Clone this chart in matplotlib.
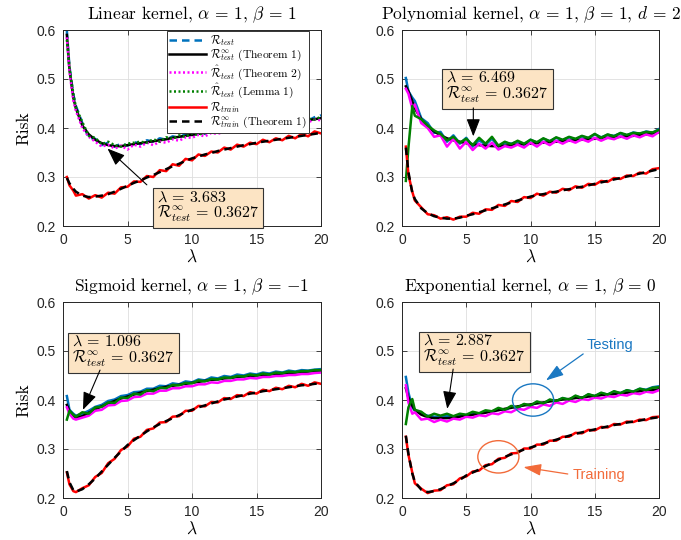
import matplotlib
matplotlib.use('Agg')
import matplotlib.pyplot as plt
from matplotlib.patches import Ellipse

plt.rcParams['mathtext.fontset'] = 'cm'
plt.rcParams['font.family'] = ['Liberation Sans', 'DejaVu Sans']

# ---------------- data ----------------
lam = [0.3, 0.5, 0.8, 1.0, 1.5, 2.0, 2.5, 3.0, 3.5, 4.0, 4.5, 5.0, 5.5, 6.0, 6.5, 7.0,
       7.5, 8.0, 8.5, 9.0, 9.5, 10.0, 10.5, 11.0, 11.5, 12.0, 12.5, 13.0, 13.5, 14.0,
       14.5, 15.0, 15.5, 16.0, 16.5, 17.0, 17.5, 18.0, 18.5, 19.0, 19.5, 20.0]

# Linear kernel
lin_test = [0.598, 0.525, 0.468, 0.445, 0.410, 0.380, 0.378, 0.365, 0.370, 0.362, 0.368, 0.364, 0.372, 0.367,
            0.375, 0.372, 0.379, 0.376, 0.383, 0.380, 0.388, 0.385, 0.391, 0.388, 0.396, 0.393, 0.399, 0.396,
            0.403, 0.400, 0.406, 0.403, 0.410, 0.406, 0.412, 0.409, 0.416, 0.412, 0.419, 0.415, 0.422, 0.426]
lin_test_th = [0.590, 0.520, 0.462, 0.440, 0.405, 0.387, 0.376, 0.369, 0.365, 0.363, 0.363, 0.365, 0.367, 0.369,
               0.371, 0.373, 0.375, 0.377, 0.380, 0.382, 0.384, 0.386, 0.388, 0.390, 0.392, 0.394, 0.396, 0.398,
               0.399, 0.401, 0.403, 0.404, 0.406, 0.407, 0.409, 0.410, 0.412, 0.413, 0.415, 0.416, 0.418, 0.420]
lin_test_t2 = [0.585, 0.515, 0.456, 0.435, 0.400, 0.382, 0.372, 0.362, 0.366, 0.358, 0.364, 0.356, 0.366, 0.362,
               0.370, 0.365, 0.372, 0.370, 0.377, 0.374, 0.381, 0.380, 0.386, 0.383, 0.390, 0.388, 0.393, 0.392,
               0.397, 0.395, 0.400, 0.399, 0.404, 0.402, 0.407, 0.405, 0.410, 0.409, 0.413, 0.412, 0.417, 0.416]
lin_test_l1 = [0.580, 0.522, 0.470, 0.442, 0.412, 0.384, 0.380, 0.367, 0.372, 0.365, 0.362, 0.368, 0.370, 0.372,
               0.370, 0.377, 0.372, 0.381, 0.378, 0.385, 0.382, 0.389, 0.386, 0.392, 0.390, 0.397, 0.394, 0.400,
               0.397, 0.404, 0.401, 0.407, 0.404, 0.410, 0.406, 0.413, 0.410, 0.416, 0.413, 0.419, 0.417, 0.423]
lin_train = [0.300, 0.283, 0.272, 0.262, 0.265, 0.256, 0.263, 0.258, 0.268, 0.266, 0.279, 0.280, 0.291, 0.290,
             0.302, 0.300, 0.314, 0.312, 0.326, 0.323, 0.337, 0.334, 0.346, 0.343, 0.352, 0.350, 0.360, 0.356,
             0.366, 0.362, 0.370, 0.367, 0.376, 0.371, 0.379, 0.375, 0.384, 0.379, 0.388, 0.383, 0.393, 0.389]
lin_train_th = [0.298, 0.287, 0.276, 0.270, 0.262, 0.259, 0.260, 0.262, 0.265, 0.270, 0.276, 0.282, 0.288, 0.293,
                0.299, 0.304, 0.310, 0.316, 0.322, 0.327, 0.333, 0.338, 0.342, 0.346, 0.349, 0.353, 0.356, 0.359,
                0.362, 0.365, 0.367, 0.370, 0.372, 0.374, 0.376, 0.378, 0.380, 0.382, 0.384, 0.386, 0.388, 0.390]

# Polynomial kernel
pol_test = [0.502, 0.475, 0.462, 0.455, 0.420, 0.410, 0.390, 0.392, 0.372, 0.385, 0.368, 0.380, 0.362, 0.375,
            0.366, 0.378, 0.362, 0.370, 0.368, 0.372, 0.366, 0.376, 0.370, 0.378, 0.373, 0.380, 0.375, 0.381,
            0.377, 0.383, 0.379, 0.387, 0.381, 0.386, 0.384, 0.389, 0.385, 0.391, 0.388, 0.393, 0.390, 0.398]
pol_test_th = [0.485, 0.475, 0.455, 0.440, 0.418, 0.403, 0.393, 0.385, 0.379, 0.375, 0.372, 0.369, 0.367, 0.365,
               0.364, 0.363, 0.363, 0.364, 0.365, 0.366, 0.367, 0.368, 0.369, 0.370, 0.371, 0.372, 0.373, 0.374,
               0.375, 0.376, 0.377, 0.378, 0.379, 0.380, 0.381, 0.382, 0.383, 0.384, 0.386, 0.387, 0.389, 0.391]
pol_test_t2 = [0.480, 0.470, 0.440, 0.448, 0.410, 0.400, 0.382, 0.385, 0.362, 0.378, 0.358, 0.372, 0.355, 0.368,
               0.358, 0.370, 0.356, 0.363, 0.360, 0.366, 0.360, 0.370, 0.362, 0.372, 0.365, 0.374, 0.368, 0.375,
               0.370, 0.377, 0.372, 0.380, 0.374, 0.380, 0.377, 0.383, 0.378, 0.385, 0.381, 0.387, 0.383, 0.392]
pol_test_l1 = [0.292, 0.360, 0.445, 0.425, 0.418, 0.405, 0.395, 0.388, 0.375, 0.382, 0.370, 0.378, 0.365, 0.380,
               0.368, 0.382, 0.364, 0.372, 0.367, 0.374, 0.368, 0.376, 0.371, 0.379, 0.373, 0.381, 0.376, 0.382,
               0.378, 0.384, 0.380, 0.388, 0.380, 0.387, 0.383, 0.390, 0.386, 0.390, 0.389, 0.392, 0.391, 0.396]
pol_train = [0.362, 0.305, 0.270, 0.252, 0.238, 0.224, 0.222, 0.215, 0.218, 0.213, 0.219, 0.219, 0.227, 0.225,
             0.234, 0.233, 0.243, 0.241, 0.251, 0.249, 0.259, 0.257, 0.266, 0.262, 0.270, 0.268, 0.276, 0.273,
             0.281, 0.278, 0.286, 0.284, 0.292, 0.290, 0.298, 0.296, 0.303, 0.302, 0.309, 0.307, 0.316, 0.318]
pol_train_th = [0.360, 0.310, 0.268, 0.255, 0.236, 0.226, 0.220, 0.217, 0.215, 0.215, 0.217, 0.221, 0.224, 0.228,
                0.232, 0.236, 0.240, 0.244, 0.248, 0.252, 0.256, 0.260, 0.263, 0.265, 0.268, 0.270, 0.273, 0.275,
                0.278, 0.280, 0.283, 0.286, 0.289, 0.292, 0.295, 0.298, 0.301, 0.304, 0.307, 0.310, 0.313, 0.316]

# Sigmoid kernel
sig_test = [0.408, 0.380, 0.372, 0.368, 0.372, 0.378, 0.386, 0.390, 0.398, 0.401, 0.408, 0.410, 0.416, 0.417,
            0.423, 0.423, 0.429, 0.428, 0.434, 0.432, 0.438, 0.436, 0.442, 0.440, 0.446, 0.444, 0.449, 0.447,
            0.452, 0.450, 0.454, 0.452, 0.456, 0.454, 0.458, 0.456, 0.460, 0.458, 0.461, 0.460, 0.462, 0.463]
sig_test_th = [0.390, 0.378, 0.368, 0.364, 0.367, 0.374, 0.381, 0.387, 0.393, 0.398, 0.403, 0.407, 0.411, 0.415,
               0.418, 0.421, 0.424, 0.427, 0.429, 0.431, 0.433, 0.435, 0.437, 0.439, 0.441, 0.442, 0.444, 0.445,
               0.447, 0.448, 0.449, 0.450, 0.451, 0.452, 0.453, 0.454, 0.455, 0.456, 0.457, 0.458, 0.459, 0.460]
sig_test_t2 = [0.385, 0.372, 0.362, 0.360, 0.364, 0.368, 0.378, 0.380, 0.389, 0.390, 0.398, 0.399, 0.406, 0.407,
               0.413, 0.413, 0.419, 0.419, 0.424, 0.424, 0.428, 0.428, 0.432, 0.432, 0.436, 0.435, 0.439, 0.439,
               0.442, 0.442, 0.445, 0.444, 0.447, 0.447, 0.449, 0.449, 0.451, 0.451, 0.453, 0.453, 0.455, 0.456]
sig_test_l1 = [0.360, 0.378, 0.370, 0.366, 0.375, 0.372, 0.385, 0.386, 0.395, 0.394, 0.405, 0.404, 0.413, 0.411,
               0.420, 0.418, 0.425, 0.424, 0.431, 0.430, 0.435, 0.434, 0.440, 0.438, 0.443, 0.442, 0.446, 0.445,
               0.449, 0.448, 0.452, 0.450, 0.454, 0.452, 0.456, 0.455, 0.458, 0.457, 0.459, 0.459, 0.461, 0.461]
sig_train = [0.252, 0.228, 0.214, 0.212, 0.220, 0.226, 0.243, 0.251, 0.271, 0.280, 0.298, 0.305, 0.321, 0.325,
             0.339, 0.342, 0.354, 0.355, 0.366, 0.367, 0.378, 0.378, 0.388, 0.387, 0.396, 0.395, 0.404, 0.402,
             0.410, 0.408, 0.416, 0.413, 0.421, 0.418, 0.425, 0.422, 0.429, 0.426, 0.433, 0.429, 0.436, 0.433]
sig_train_th = [0.255, 0.232, 0.216, 0.213, 0.218, 0.228, 0.240, 0.254, 0.268, 0.282, 0.295, 0.308, 0.318, 0.327,
                0.336, 0.344, 0.351, 0.357, 0.363, 0.369, 0.375, 0.380, 0.385, 0.389, 0.393, 0.397, 0.401, 0.404,
                0.407, 0.410, 0.413, 0.415, 0.418, 0.420, 0.422, 0.424, 0.426, 0.428, 0.430, 0.431, 0.433, 0.434]

# Exponential kernel
exp_test = [0.447, 0.415, 0.385, 0.378, 0.372, 0.368, 0.366, 0.365, 0.368, 0.366, 0.370, 0.369, 0.373, 0.371,
            0.377, 0.375, 0.381, 0.379, 0.386, 0.384, 0.391, 0.388, 0.396, 0.392, 0.400, 0.397, 0.404, 0.400,
            0.408, 0.404, 0.411, 0.408, 0.414, 0.411, 0.417, 0.414, 0.420, 0.417, 0.423, 0.421, 0.426, 0.428]
exp_test_th = [0.424, 0.405, 0.388, 0.380, 0.370, 0.365, 0.363, 0.363, 0.363, 0.364, 0.366, 0.368, 0.370, 0.372,
               0.374, 0.377, 0.379, 0.382, 0.384, 0.387, 0.389, 0.391, 0.393, 0.395, 0.397, 0.399, 0.401, 0.402,
               0.404, 0.405, 0.407, 0.408, 0.410, 0.411, 0.412, 0.414, 0.415, 0.416, 0.418, 0.419, 0.420, 0.422]
exp_test_t2 = [0.430, 0.395, 0.372, 0.375, 0.360, 0.362, 0.355, 0.360, 0.356, 0.362, 0.360, 0.366, 0.364, 0.369,
               0.367, 0.373, 0.371, 0.377, 0.375, 0.382, 0.380, 0.386, 0.384, 0.391, 0.388, 0.395, 0.392, 0.399,
               0.396, 0.402, 0.400, 0.405, 0.403, 0.408, 0.406, 0.411, 0.409, 0.414, 0.412, 0.417, 0.415, 0.420]
exp_test_l1 = [0.351, 0.385, 0.402, 0.380, 0.376, 0.366, 0.372, 0.368, 0.372, 0.367, 0.372, 0.370, 0.376, 0.373,
               0.379, 0.377, 0.384, 0.380, 0.388, 0.385, 0.392, 0.389, 0.397, 0.393, 0.401, 0.398, 0.404, 0.401,
               0.409, 0.404, 0.412, 0.408, 0.415, 0.411, 0.418, 0.414, 0.420, 0.417, 0.423, 0.420, 0.425, 0.426]
exp_train = [0.325, 0.288, 0.252, 0.230, 0.219, 0.210, 0.215, 0.216, 0.226, 0.228, 0.240, 0.244, 0.254, 0.256,
             0.267, 0.269, 0.280, 0.282, 0.291, 0.292, 0.301, 0.301, 0.309, 0.309, 0.317, 0.317, 0.325, 0.325,
             0.333, 0.332, 0.339, 0.338, 0.345, 0.344, 0.351, 0.350, 0.356, 0.355, 0.360, 0.359, 0.365, 0.366]
exp_train_th = [0.327, 0.290, 0.250, 0.233, 0.217, 0.212, 0.214, 0.218, 0.224, 0.230, 0.237, 0.246, 0.252, 0.258,
                0.265, 0.271, 0.278, 0.284, 0.289, 0.294, 0.299, 0.303, 0.307, 0.311, 0.315, 0.319, 0.323, 0.327,
                0.331, 0.334, 0.337, 0.340, 0.343, 0.346, 0.349, 0.351, 0.354, 0.356, 0.358, 0.361, 0.363, 0.365]

titles = [r'Linear kernel, $\alpha\,=\,1$, $\beta\,=\,1$',
          r'Polynomial kernel, $\alpha\,=\,1$, $\beta\,=\,1$, $d\,=\,2$',
          r'Sigmoid kernel, $\alpha\,=\,1$, $\beta\,=\,{-1}$',
          r'Exponential kernel, $\alpha\,=\,1$, $\beta\,=\,0$']
opt_lambda = ['3.683', '6.469', '1.096', '2.887']
opt_risk = ['0.3627', '0.3627', '0.3627', '0.3627']

xticks = [0, 5, 10, 15, 20]
yticks = [0.2, 0.3, 0.4, 0.5, 0.6]

# ---------------- style ----------------
C_BLUE = '#0072BD'
C_MAG = '#FF00FF'
C_GREEN = '#008000'
C_RED = '#FF0000'
C_BOX = '#FCE4C4'
AX_COL = '#262626'
SERIF = ['cmr10', 'DejaVu Serif']

fig = plt.figure(figsize=(6.81, 5.40), dpi=100)
W, H = 681.0, 540.0
rects = [(63, 30, 258, 196), (402, 30, 257, 196), (63, 302, 258, 196), (402, 302, 257, 196)]
axes = [fig.add_axes([x / W, 1 - (y + h) / H, w / W, h / H]) for (x, y, w, h) in rects]

panels = [
    (lin_test, lin_test_th, lin_test_t2, lin_test_l1, lin_train, lin_train_th),
    (pol_test, pol_test_th, pol_test_t2, pol_test_l1, pol_train, pol_train_th),
    (sig_test, sig_test_th, sig_test_t2, sig_test_l1, sig_train, sig_train_th),
    (exp_test, exp_test_th, exp_test_t2, exp_test_l1, exp_train, exp_train_th),
]

# box text anchor (left, vertical centre), arrow tail, arrow tip (data coords)
box_pos = [(7.25, 0.239), (3.45, 0.482), (0.70, 0.500), (1.65, 0.502)]
arrow_tail = [(6.50, 0.284), (5.55, 0.441), (2.87, 0.461), (3.98, 0.463)]
arrow_tip = [(3.45, 0.358), (5.55, 0.383), (1.55, 0.380), (3.52, 0.382)]

lw = 1.8
for i, ax in enumerate(axes):
    t, tth, t2, l1, tr, trth = panels[i]
    if i == 0:
        ax.plot(lam, t, color=C_BLUE, lw=lw, ls=(0, (3, 2)), label=r'$\mathcal{R}_{test}$')
        ax.plot(lam, tth, color='k', lw=lw, label=r'$\mathcal{R}^{\infty}_{test}\ \mathrm{(Theorem\ 1)}$')
        ax.plot(lam, t2, color=C_MAG, lw=lw, ls=(0, (0.8, 1.0)), label=r'$\hat{\mathcal{R}}_{test}\ \mathrm{(Theorem\ 2)}$')
        ax.plot(lam, l1, color=C_GREEN, lw=lw, ls=(0, (0.8, 1.0)), label=r'$\hat{\mathcal{R}}_{test}\ \mathrm{(Lemma\ 1)}$')
    else:
        ax.plot(lam, t, color=C_BLUE, lw=lw)
        ax.plot(lam, tth, color='k', lw=lw)
        ax.plot(lam, t2, color=C_MAG, lw=lw)
        ax.plot(lam, l1, color=C_GREEN, lw=lw)
    ax.plot(lam, tr, color=C_RED, lw=lw, label=r'$\mathcal{R}_{train}$')
    ax.plot(lam, trth, color='k', lw=lw, ls=(0, (3, 2)), label=r'$\mathcal{R}^{\infty}_{train}\ \mathrm{(Theorem\ 1)}$')

    ax.set_xlim(0, 20)
    ax.set_ylim(0.2, 0.6)
    ax.set_xticks(xticks)
    ax.set_yticks(yticks)
    ax.set_xticklabels([str(v) for v in xticks])
    ax.set_yticklabels(['%.1f' % v for v in yticks])
    ax.grid(True, color='#dedede', lw=0.6)
    ax.set_axisbelow(True)
    ax.tick_params(direction='in', length=3.5, width=0.6, top=True, right=True,
                   colors=AX_COL, labelsize=10, pad=5)
    for s in ax.spines.values():
        s.set_color(AX_COL)
        s.set_linewidth(0.7)
    ax.set_title(titles[i], fontsize=12.5, pad=7.5, family=SERIF)
    ax.set_xlabel(r'$\lambda$', fontsize=12.5, labelpad=1)
    if i % 2 == 0:
        ax.set_ylabel('Risk', fontsize=12.5, labelpad=4, family=SERIF)

    txt = (r'$\lambda\,=\,' + opt_lambda[i] + '$\n' +
           r'$\mathcal{R}^{\infty}_{test}\,=\,' + opt_risk[i] + '$')
    ax.text(box_pos[i][0], box_pos[i][1], txt, fontsize=11.5, ha='left', va='center',
            linespacing=1.0, zorder=6,
            bbox=dict(boxstyle='square,pad=0.25', fc=C_BOX, ec='#333333', lw=0.8))
    ax.annotate('', xy=arrow_tip[i], xytext=arrow_tail[i], zorder=6,
                arrowprops=dict(arrowstyle='-|>,head_length=0.9,head_width=0.35', color='k',
                                lw=0.8, shrinkA=0, shrinkB=0, mutation_scale=12))

# legend in first panel
leg = axes[0].legend(loc='upper right', bbox_to_anchor=(0.952, 0.997), fontsize=8.3,
                     frameon=True, fancybox=False, framealpha=1, edgecolor='#333333',
                     handlelength=3.2, labelspacing=0.0, borderpad=0.2, handletextpad=0.3,
                     borderaxespad=0)
leg.get_frame().set_linewidth(0.7)
leg.set_zorder(10)

# annotations on exponential panel
ax = axes[3]
C_TEST = '#1A78C2'
C_TRAIN = '#F26B3A'
ax.add_patch(Ellipse((10.2, 0.400), 3.2, 0.066, fill=False, ec=C_TEST, lw=1.0, zorder=7))
ax.add_patch(Ellipse((7.5, 0.284), 3.2, 0.066, fill=False, ec=C_TRAIN, lw=1.0, zorder=7))
ax.text(16.2, 0.512, 'Testing', color=C_TEST, fontsize=10.5, ha='center', va='center')
ax.text(15.3, 0.247, 'Training', color=C_TRAIN, fontsize=10.5, ha='center', va='center')
ax.annotate('', xy=(11.2, 0.440), xytext=(14.1, 0.494),
            arrowprops=dict(arrowstyle='-|>,head_length=0.9,head_width=0.3', color=C_TEST,
                            lw=0.9, shrinkA=0, shrinkB=0, mutation_scale=12))
ax.annotate('', xy=(9.45, 0.263), xytext=(12.9, 0.249),
            arrowprops=dict(arrowstyle='-|>,head_length=0.9,head_width=0.3', color=C_TRAIN,
                            lw=0.9, shrinkA=0, shrinkB=0, mutation_scale=12))

fig.savefig('out.png', dpi=100)
